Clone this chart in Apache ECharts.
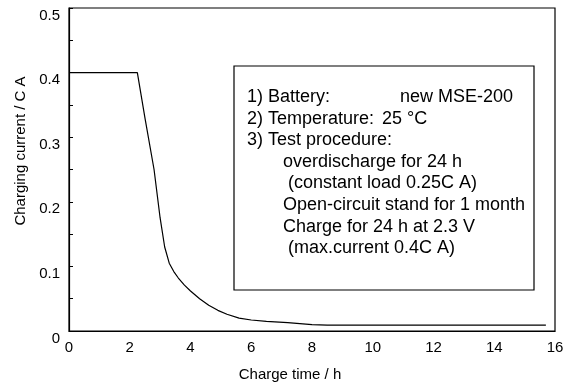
<!DOCTYPE html>
<html><head><meta charset="utf-8">
<script src="https://cdn.jsdelivr.net/npm/echarts@6/dist/echarts.min.js"></script>
<style>html,body{margin:0;padding:0;background:#fff}#c{width:571px;height:387px}</style>
</head><body><div id="c"></div>
<script>
const chargeTime = [0, 2.25, 2.5, 2.8, 3.0, 3.15, 3.3, 3.45, 3.6, 3.8, 4.0, 4.3, 4.6, 4.9, 5.2, 5.6, 6.0, 6.5, 7.2, 8.0, 8.5, 10, 12, 15.7];
const chargeCurrent = [0.40, 0.40, 0.33, 0.25, 0.175, 0.13, 0.105, 0.092, 0.082, 0.071, 0.062, 0.050, 0.040, 0.032, 0.026, 0.020, 0.017, 0.015, 0.013, 0.010, 0.009, 0.009, 0.009, 0.009];
const xTicks = [0, 2, 4, 6, 8, 10, 12, 14, 16];
const yTicks = [0, 0.1, 0.2, 0.3, 0.4, 0.5];
const infoLines = [
  ['1)', 'Battery:', 'new MSE-200'],
  ['2)', 'Temperature:', '25 °C'],
  ['3)', 'Test procedure:', ''],
  ['', 'overdischarge for 24 h', ''],
  ['', ' (constant load 0.25C A)', ''],
  ['', 'Open-circuit stand for 1 month', ''],
  ['', 'Charge for 24 h at 2.3 V', ''],
  ['', ' (max.current 0.4C A)', '']
];
const FONT = '"Liberation Sans", Arial, Helvetica, sans-serif';
const chart = echarts.init(document.getElementById('c'));
const box = {x: 234, y: 66, w: 300, h: 224};
const texts = [];
infoLines.forEach((l, i) => {
  const y = 97 + i * 21.6;
  const st = (t) => ({text: t, font: '18px ' + FONT, fill: '#000', textVerticalAlign: 'middle'});
  if (l[0]) texts.push({type: 'text', x: 247, y: y, style: st(l[0])});
  const x1 = l[0] ? 268 : 283;
  texts.push({type: 'text', x: x1, y: y, style: st(l[1])});
  if (l[2]) texts.push({type: 'text', x: i === 0 ? 400 : 382, y: y, style: st(l[2])});
});
chart.setOption({
  animation: false,
  backgroundColor: '#fff',
  textStyle: {fontFamily: FONT},
  grid: {left: 69, top: 8, right: 16, bottom: 54, show: true, borderColor: '#000', borderWidth: 1.2},
  xAxis: {
    type: 'value', min: xTicks[0], max: xTicks[xTicks.length - 1], interval: 2,
    name: 'Charge time / h', nameLocation: 'middle', nameGap: 36,
    nameTextStyle: {fontSize: 15, color: '#000', padding: [0, 44, 0, 0]},
    axisLine: {lineStyle: {color: '#000', width: 1.2}},
    axisTick: {show: false},
    splitLine: {show: false},
    axisLabel: {fontSize: 15, color: '#000', margin: 9}
  },
  yAxis: {
    type: 'value', min: yTicks[0], max: yTicks[yTicks.length - 1], interval: 0.1,
    name: 'Charging current / C A', nameLocation: 'middle', nameGap: 40,
    nameTextStyle: {fontSize: 15, color: '#000', padding: [0, 0, 0, 37]},
    axisLine: {lineStyle: {color: '#000', width: 1.2}},
    axisTick: {show: true, inside: true, length: 4, lineStyle: {color: '#000'}},
    minorTick: {show: true, splitNumber: 2, length: 4, lineStyle: {color: '#000'}},
    splitLine: {show: false},
    axisLabel: {fontSize: 15, color: '#000', margin: 9, verticalAlign: 'top',
      formatter: v => v === 0 ? '0' : v.toFixed(1)}
  },
  series: [{
    type: 'line', data: chargeTime.map((t, i) => [t, chargeCurrent[i]]),
    showSymbol: false, smooth: false, lineStyle: {color: '#000', width: 1.2}
  }],
  graphic: [
    {type: 'rect', shape: {x: box.x, y: box.y, width: box.w, height: box.h}, style: {fill: '#fff', stroke: '#000', lineWidth: 1.2}},
    ...texts
  ]
});
</script></body></html>
